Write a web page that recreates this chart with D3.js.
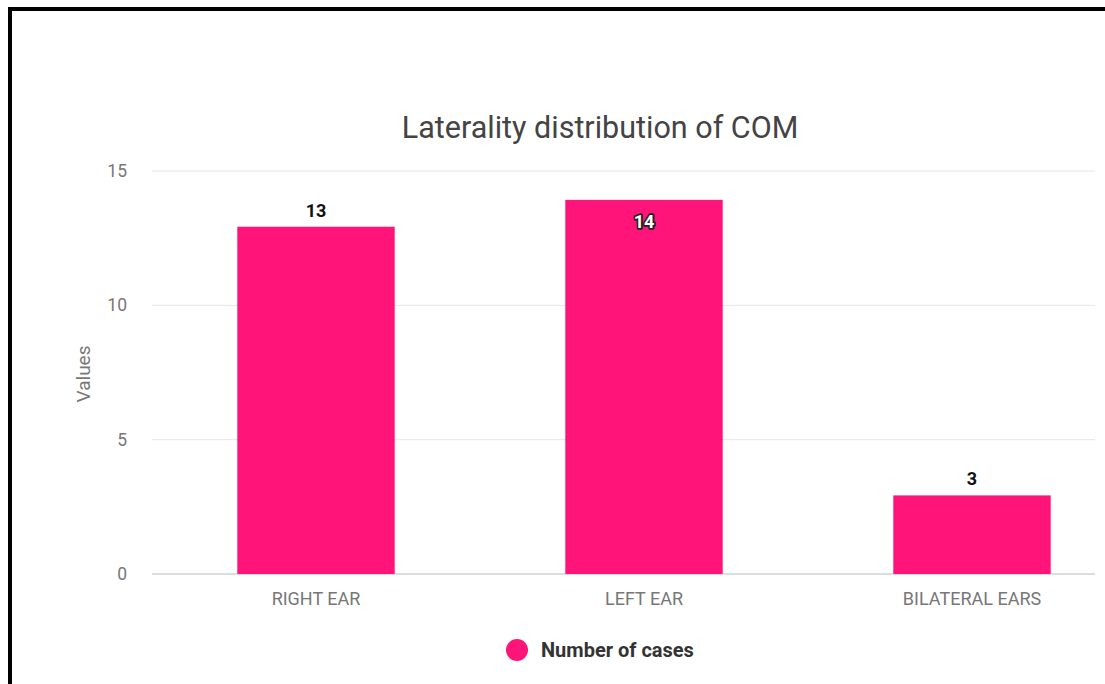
<!DOCTYPE html>
<html>
<head>
<meta charset="utf-8">
<script src="https://cdn.jsdelivr.net/npm/d3@7"></script>
<style>
  html, body { margin: 0; padding: 0; background: #fff; }
  svg { display: block; }
  text { font-family: Roboto, "Noto Sans", sans-serif; }
</style>
</head>
<body>
<svg id="chart" width="1105" height="684"></svg>
<script>
const categories = ["RIGHT EAR", "LEFT EAR", "BILATERAL EARS"];
const values = [13, 14, 3];
const yTicks = [0, 5, 10, 15];
const seriesName = "Number of cases";
const titleText = "Laterality distribution of COM";
const yAxisTitle = "Values";

const svg = d3.select("#chart");
const W = 1105, H = 684;
const plotLeft = 152, plotRight = 1136, gridRight = 1095;
const plotTop = 171, plotBottom = 574;
const barColor = "#ff1579";

// page frame (top and left black border)
svg.append("rect").attr("x", 0).attr("y", 0).attr("width", W).attr("height", H).attr("fill", "#fff");
svg.append("rect").attr("x", 8).attr("y", 7).attr("width", W - 8).attr("height", 4).attr("fill", "#000");
svg.append("rect").attr("x", 8).attr("y", 7).attr("width", 4).attr("height", H - 7).attr("fill", "#000");

const x = d3.scaleBand().domain(categories).range([plotLeft, plotRight]).paddingInner(0.52).paddingOuter(0.26);
const y = d3.scaleLinear().domain([0, 15]).range([plotBottom, plotTop]);

// gridlines
const grid = svg.append("g");
grid.selectAll("line").data(yTicks).join("line")
  .attr("x1", plotLeft).attr("x2", gridRight)
  .attr("y1", d => y(d)).attr("y2", d => y(d))
  .attr("stroke", d => d === 0 ? "#cfd3d6" : "#e6e6e6")
  .attr("stroke-width", d => d === 0 ? 1.5 : 1);

// y axis labels
const yAxis = d3.axisLeft(y).tickValues(yTicks).tickSize(0).tickPadding(0);
const yg = svg.append("g").attr("transform", `translate(127,0)`).call(yAxis);
yg.select(".domain").remove();
yg.selectAll("text").attr("fill", "#777").attr("font-size", 17.5).attr("font-family", "Roboto, sans-serif");

// x axis labels
const xAxis = d3.axisBottom(x).tickSize(0).tickPadding(0);
const xg = svg.append("g").attr("transform", `translate(0,${plotBottom + 18})`).call(xAxis);
xg.select(".domain").remove();
xg.selectAll("text").attr("fill", "#777").attr("font-size", 18).attr("font-family", "Roboto, sans-serif");

// bars
svg.append("g").selectAll("rect").data(values).join("rect")
  .attr("x", (d, i) => x(categories[i]))
  .attr("width", x.bandwidth())
  .attr("y", d => y(d) + 2)
  .attr("height", d => y(0) - y(d) - 2)
  .attr("fill", barColor);

// value labels
const maxV = d3.max(values);
const labels = svg.append("g");
values.forEach((v, i) => {
  const cx = x(categories[i]) + x.bandwidth() / 2;
  if (v === maxV) {
    labels.append("text")
      .attr("x", cx).attr("y", y(v) + 30)
      .attr("text-anchor", "middle")
      .attr("font-size", 18).attr("font-weight", "bold")
      .attr("fill", "#fff").attr("stroke", "#222").attr("stroke-width", 3.5)
      .attr("paint-order", "stroke").attr("stroke-linejoin", "round")
      .text(v);
  } else {
    labels.append("text")
      .attr("x", cx).attr("y", y(v) - 8)
      .attr("text-anchor", "middle")
      .attr("font-size", 18).attr("font-weight", "bold")
      .attr("fill", "#111")
      .text(v);
  }
});

// title
svg.append("text").attr("x", 600).attr("y", 138)
  .attr("text-anchor", "middle").attr("font-size", 30.5).attr("fill", "#444")
  .text(titleText);

// y axis title
svg.append("text")
  .attr("transform", `translate(90,374) rotate(-90)`)
  .attr("text-anchor", "middle").attr("font-size", 19).attr("fill", "#777")
  .text(yAxisTitle);

// legend
const lg = svg.append("g");
lg.append("circle").attr("cx", 517).attr("cy", 650).attr("r", 11).attr("fill", barColor);
lg.append("text").attr("x", 541).attr("y", 657)
  .attr("font-size", 20).attr("font-weight", "bold").attr("fill", "#333")
  .text(seriesName);
</script>
</body>
</html>
